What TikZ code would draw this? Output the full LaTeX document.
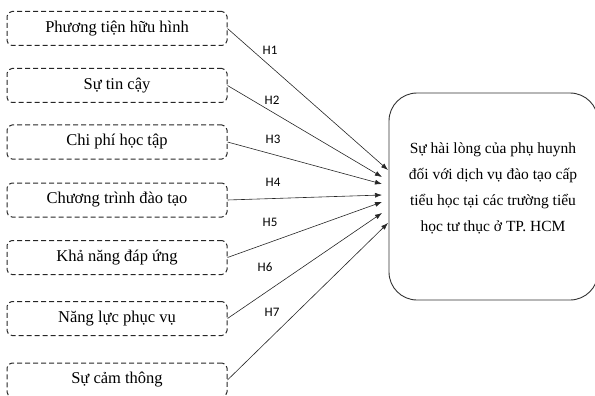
\documentclass[tikz,border=0pt]{standalone}
\usepackage{fontspec}
\setmainfont{Liberation Serif}
\newfontfamily\labelfont{Carlito}
\usetikzlibrary{arrows.meta}
\begin{document}
\begin{tikzpicture}[x=1pt,y=-1pt,
  factor/.style={draw=black!85,line width=1pt,dash pattern=on 5pt off 3pt,rounded corners=5pt,
    minimum width=220pt,minimum height=34pt,inner sep=0pt,font=\fontsize{16.5}{19}\selectfont},
  goalbox/.style={draw=black!80,line width=0.9pt,rounded corners=28pt,minimum width=209pt,minimum height=207pt},
  hyp/.style={draw=black!85,line width=0.6pt,-{Latex[length=7pt,width=5pt]}},
  hlabel/.style={font=\labelfont\fontsize{13}{15}\selectfont}]
\useasboundingbox (0,0) rectangle (595,396);

\node[factor] (f1) at (117,28.5) {Phương tiện hữu hình};
\node[factor] (f2) at (117,85.5) {Sự tin cậy};
\node[factor] (f3) at (117,142) {Chi phí học tập};
\node[factor] (f4) at (117,200) {Chương trình đào tạo};
\node[factor] (f5) at (117,257.5) {Khả năng đáp ứng};
\node[factor] (f6) at (117,318.5) {Năng lực phục vụ};
\node[factor] (f7) at (117,380) {Sự cảm thông};

\node[goalbox] (goal) at (493.5,196.5) {};
\node[align=center,font=\fontsize{15.5}{26}\selectfont] (goaltext) at (493,188)
  {Sự hài lòng của phụ huynh\\đối với dịch vụ đào tạo cấp\\tiểu học tại các trường tiểu\\học tư thục ở TP. HCM};

% arrow ends in front of the goal box
\coordinate (t1) at (388,170);
\coordinate (t2) at (382,177);
\coordinate (t3) at (382,184);
\coordinate (t4) at (382,195);
\coordinate (t5) at (382,202);
\coordinate (t6) at (382,213);
\coordinate (t7) at (388,223);

\draw[hyp] (f1.east) -- (t1);
\draw[hyp] (f2.east) -- (t2);
\draw[hyp] (f3.east) -- (t3);
\draw[hyp] (f4.east) -- (t4);
\draw[hyp] (f5.east) -- (t5);
\draw[hyp] (f6.east) -- (t6);
\draw[hyp] (f7.east) -- (t7);

\node[hlabel] (h1) at (270,50) {H1};
\node[hlabel] (h2) at (272,100) {H2};
\node[hlabel] (h3) at (273,139) {H3};
\node[hlabel] (h4) at (273,182) {H4};
\node[hlabel] (h5) at (270,222) {H5};
\node[hlabel] (h6) at (265,267) {H6};
\node[hlabel] (h7) at (272,312) {H7};
\end{tikzpicture}
\end{document}
